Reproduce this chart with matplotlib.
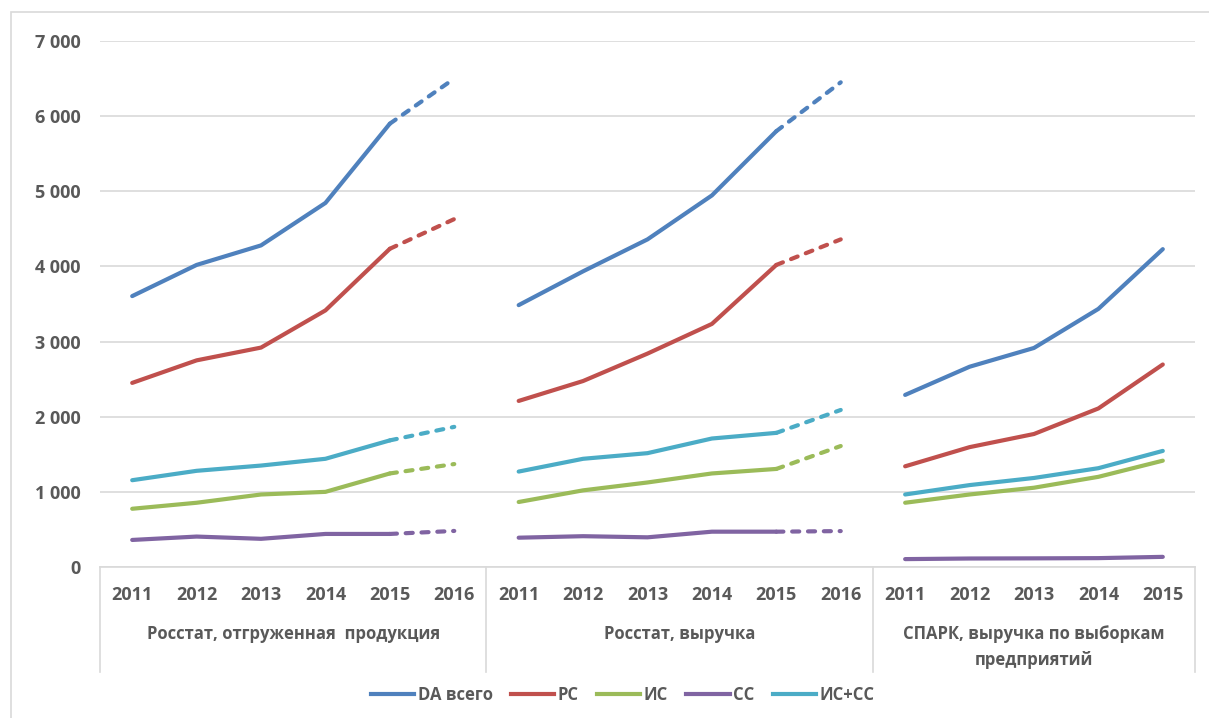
import numpy as np
import matplotlib.pyplot as plt
from matplotlib.lines import Line2D
from matplotlib.patches import Rectangle

plt.rcParams['font.family'] = ['Open Sans', 'DejaVu Sans']

# groups and years
groups = ['Росстат, отгруженная  продукция', 'Росстат, выручка',
          'СПАРК, выручка по выборкам\nпредприятий']
years = [['2011', '2012', '2013', '2014', '2015', '2016'],
         ['2011', '2012', '2013', '2014', '2015', '2016'],
         ['2011', '2012', '2013', '2014', '2015']]

series_names = ['DA всего', 'РС', 'ИС', 'СС', 'ИС+СС']
colors = ['#4F81BD', '#C0504D', '#9BBB59', '#8064A2', '#4BACC6']

# values per group (2016 is an estimate, drawn dashed)
da_total = [[3605, 4020, 4280, 4845, 5900, 6500],
            [3485, 3935, 4360, 4945, 5800, 6450],
            [2290, 2665, 2915, 3435, 4230]]
rs = [[2450, 2750, 2920, 3415, 4235, 4630],
      [2210, 2475, 2840, 3235, 4020, 4360],
      [1340, 1595, 1770, 2110, 2695]]
is_ = [[775, 855, 965, 1000, 1245, 1370],
       [865, 1020, 1125, 1245, 1305, 1610],
       [855, 965, 1055, 1200, 1415]]
ss = [[360, 405, 375, 440, 440, 480],
      [390, 410, 395, 470, 470, 478],
      [105, 113, 115, 118, 135]]
is_ss = [[1155, 1280, 1350, 1440, 1685, 1865],
         [1270, 1440, 1515, 1710, 1785, 2090],
         [965, 1090, 1185, 1315, 1545]]
all_series = [da_total, rs, is_, ss, is_ss]

fig = plt.figure(figsize=(12.09, 7.18), dpi=100)
ax = fig.add_axes([100 / 1209, 1 - 567 / 718, 1095 / 1209, 526 / 718])

# chart border (image is cropped at right and bottom)
fig.patches.append(Rectangle((11 / 1209, -0.05), 1.2, 1 - 12 / 718 + 0.05,
                             transform=fig.transFigure, fill=False,
                             edgecolor='#D9D9D9', linewidth=1.2))

n_cat = sum(len(y) for y in years)
starts = np.cumsum([0] + [len(y) for y in years])

for vals, color, name in zip(all_series, colors, series_names):
    for g, v in enumerate(vals):
        x = np.arange(len(v)) + starts[g]
        if len(v) == 6:
            ax.plot(x[:5], v[:5], color=color, lw=3, solid_capstyle='round')
            ax.plot(x[4:], v[4:], color=color, lw=3,
                    linestyle=(0, (1.7, 2.1)), dash_capstyle='round')
        else:
            ax.plot(x, v, color=color, lw=3, solid_capstyle='round')

ax.set_xlim(-0.5, n_cat - 0.5)
ax.set_ylim(0, 7000)
ax.set_yticks(np.arange(0, 7001, 1000))
ax.set_yticklabels([f'{v:,}'.replace(',', ' ') for v in range(0, 7001, 1000)])
ax.grid(axis='y', color='#D9D9D9', lw=1.2)
ax.set_axisbelow(True)
for s in ['left', 'right', 'top']:
    ax.spines[s].set_visible(False)
ax.spines['bottom'].set_color('#D9D9D9')
ax.spines['bottom'].set_linewidth(1.2)

ax.set_xticks(np.arange(n_cat))
ax.set_xticklabels([y for grp in years for y in grp])
ax.tick_params(axis='both', length=0, labelsize=13, labelcolor='#595959')
ax.tick_params(axis='y', pad=14)
ax.tick_params(axis='x', pad=14)
for lbl in ax.get_xticklabels() + ax.get_yticklabels():
    lbl.set_fontweight('bold')

# group separators and labels
trans = ax.get_xaxis_transform()
for b in starts:
    ax.add_line(Line2D([b - 0.5, b - 0.5], [0, -0.200], transform=trans,
                       color='#D9D9D9', lw=1.2, clip_on=False))
for g, name in enumerate(groups):
    xc = (starts[g] + starts[g + 1] - 1) / 2
    ax.text(xc, -0.11, name, transform=trans, ha='center', va='top',
            fontsize=12, fontweight='bold', color='#595959', linespacing=1.6)

handles = [Line2D([], [], color=c, lw=3) for c in colors]
fig.legend(handles, series_names, loc='center', bbox_to_anchor=(0.515, 1 - 695 / 718),
           ncol=5, frameon=False, handlelength=2.6, columnspacing=1.1,
           handletextpad=0.2, prop={'size': 12, 'weight': 'bold'},
           labelcolor='#595959')

fig.savefig('out.png', dpi=100)
